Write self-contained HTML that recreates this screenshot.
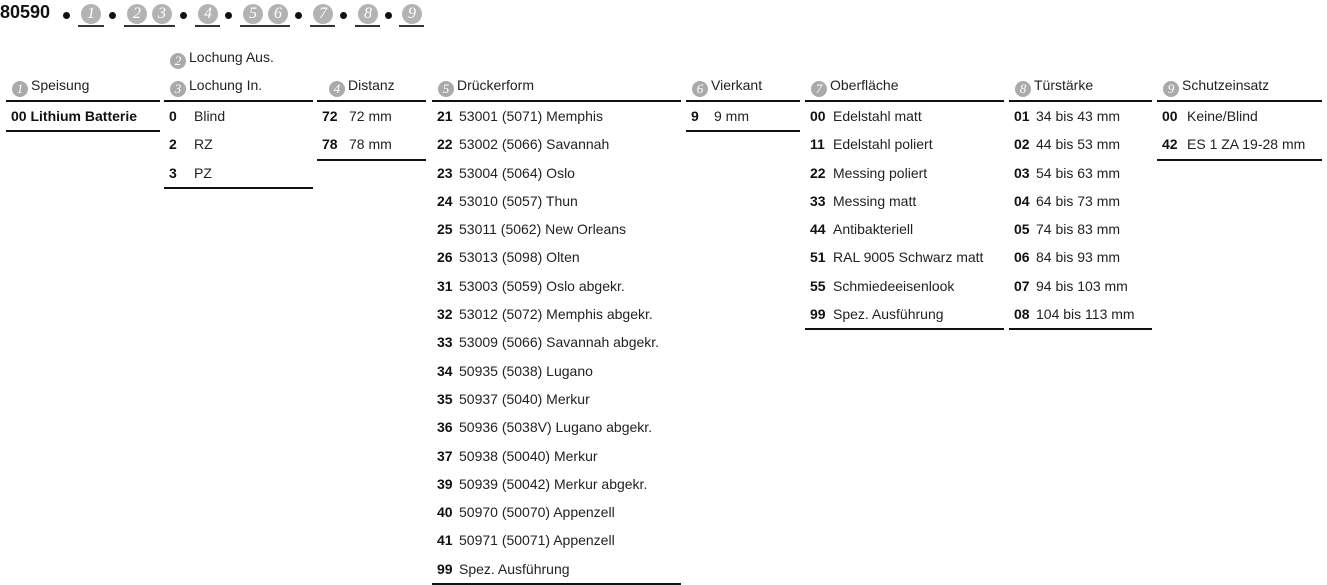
<!DOCTYPE html>
<html><head><meta charset="utf-8"><style>
body{margin:0;width:1327px;height:585px;background:#fff;position:relative;overflow:hidden;font-family:"Liberation Sans",sans-serif;color:#222;font-size:14px}
.a{position:absolute;white-space:nowrap}
.c{display:inline-block;width:16px;height:16px;border-radius:50%;background:#aaa;color:#fff;font-family:"Liberation Serif",serif;font-style:italic;font-size:13px;line-height:16px;text-align:center;vertical-align:-3px;margin-right:3px}
.col{position:absolute;top:100px;border-top:2px solid #111;border-bottom:2px solid #111}
.col div{line-height:28.3px;height:28.3px;white-space:nowrap;padding-left:5px}
.col b{display:inline-block;color:#111}
.h{position:absolute;top:76px;white-space:nowrap;line-height:18px}
.top .c{width:20px;height:20px;line-height:20px;font-size:16px;background:#b3b3b3;margin:0;vertical-align:top}
.u{position:absolute;top:4px;border-bottom:2px solid #333;height:21px}
.dot{position:absolute;top:12px;width:7px;height:7px;border-radius:50%;background:#111}
</style></head><body>
<div class="a" style="left:0;top:2px;font-size:18px;font-weight:bold;color:#111">80590</div>
<div class="top">
<div class="dot" style="left:63px"></div>
<div class="u" style="left:78px;width:26px"><span class="c" style="margin-left:3px">1</span></div>
<div class="dot" style="left:109px"></div>
<div class="u" style="left:124px;width:51px"><span class="c" style="margin-left:3px">2</span><span class="c" style="margin-left:5px">3</span></div>
<div class="dot" style="left:180px"></div>
<div class="u" style="left:195px;width:25px"><span class="c" style="margin-left:3px">4</span></div>
<div class="dot" style="left:225px"></div>
<div class="u" style="left:240px;width:50px"><span class="c" style="margin-left:3px">5</span><span class="c" style="margin-left:5px">6</span></div>
<div class="dot" style="left:295px"></div>
<div class="u" style="left:310px;width:25px"><span class="c" style="margin-left:3px">7</span></div>
<div class="dot" style="left:340px"></div>
<div class="u" style="left:355px;width:25px"><span class="c" style="margin-left:3px">8</span></div>
<div class="dot" style="left:385px"></div>
<div class="u" style="left:399px;width:25px"><span class="c" style="margin-left:3px">9</span></div>
</div>

<div class="h" style="left:12px"><span class="c">1</span>Speisung</div>
<div class="h" style="left:170px;top:48px"><span class="c">2</span>Lochung Aus.</div>
<div class="h" style="left:170px"><span class="c">3</span>Lochung In.</div>
<div class="h" style="left:329px"><span class="c">4</span>Distanz</div>
<div class="h" style="left:438px"><span class="c">5</span>Drückerform</div>
<div class="h" style="left:692px"><span class="c">6</span>Vierkant</div>
<div class="h" style="left:811px"><span class="c">7</span>Oberfläche</div>
<div class="h" style="left:1015px"><span class="c">8</span>Türstärke</div>
<div class="h" style="left:1163px"><span class="c">9</span>Schutzeinsatz</div>

<div class="col" style="left:6px;width:154px"><div><b>00 Lithium Batterie</b></div></div>
<div class="col" style="left:164px;width:149px">
<div><b style="width:25px">0</b>Blind</div><div><b style="width:25px">2</b>RZ</div><div><b style="width:25px">3</b>PZ</div></div>
<div class="col" style="left:317px;width:109px">
<div><b style="width:27px">72</b>72 mm</div><div><b style="width:27px">78</b>78 mm</div></div>
<div class="col" style="left:432px;width:249px">
<div><b style="width:22px">21</b>53001 (5071) Memphis</div>
<div><b style="width:22px">22</b>53002 (5066) Savannah</div>
<div><b style="width:22px">23</b>53004 (5064) Oslo</div>
<div><b style="width:22px">24</b>53010 (5057) Thun</div>
<div><b style="width:22px">25</b>53011 (5062) New Orleans</div>
<div><b style="width:22px">26</b>53013 (5098) Olten</div>
<div><b style="width:22px">31</b>53003 (5059) Oslo abgekr.</div>
<div><b style="width:22px">32</b>53012 (5072) Memphis abgekr.</div>
<div><b style="width:22px">33</b>53009 (5066) Savannah abgekr.</div>
<div><b style="width:22px">34</b>50935 (5038) Lugano</div>
<div><b style="width:22px">35</b>50937 (5040) Merkur</div>
<div><b style="width:22px">36</b>50936 (5038V) Lugano abgekr.</div>
<div><b style="width:22px">37</b>50938 (50040) Merkur</div>
<div><b style="width:22px">39</b>50939 (50042) Merkur abgekr.</div>
<div><b style="width:22px">40</b>50970 (50070) Appenzell</div>
<div><b style="width:22px">41</b>50971 (50071) Appenzell</div>
<div><b style="width:22px">99</b>Spez. Ausführung</div></div>
<div class="col" style="left:686px;width:114px"><div><b style="width:23px">9</b>9 mm</div></div>
<div class="col" style="left:805px;width:199px">
<div><b style="width:23px">00</b>Edelstahl matt</div>
<div><b style="width:23px">11</b>Edelstahl poliert</div>
<div><b style="width:23px">22</b>Messing poliert</div>
<div><b style="width:23px">33</b>Messing matt</div>
<div><b style="width:23px">44</b>Antibakteriell</div>
<div><b style="width:23px">51</b>RAL 9005 Schwarz matt</div>
<div><b style="width:23px">55</b>Schmiedeeisenlook</div>
<div><b style="width:23px">99</b>Spez. Ausführung</div></div>
<div class="col" style="left:1009px;width:143px">
<div><b style="width:22px">01</b>34 bis 43 mm</div>
<div><b style="width:22px">02</b>44 bis 53 mm</div>
<div><b style="width:22px">03</b>54 bis 63 mm</div>
<div><b style="width:22px">04</b>64 bis 73 mm</div>
<div><b style="width:22px">05</b>74 bis 83 mm</div>
<div><b style="width:22px">06</b>84 bis 93 mm</div>
<div><b style="width:22px">07</b>94 bis 103 mm</div>
<div><b style="width:22px">08</b>104 bis 113 mm</div></div>
<div class="col" style="left:1157px;width:165px">
<div><b style="width:25px">00</b>Keine/Blind</div>
<div><b style="width:25px">42</b>ES 1 ZA 19-28 mm</div></div>
</body></html>
